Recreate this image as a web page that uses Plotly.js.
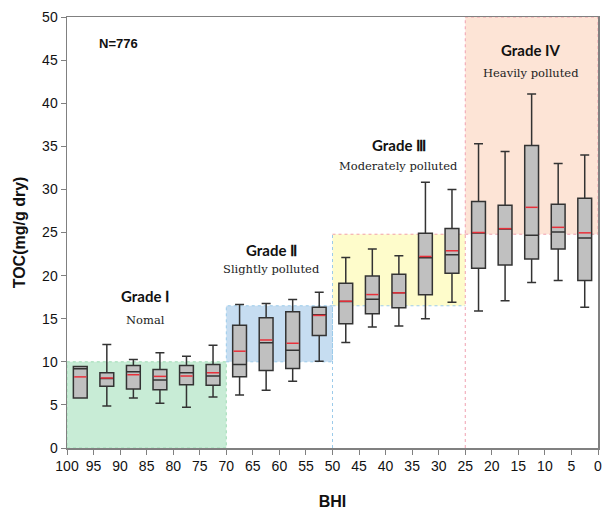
<!DOCTYPE html>
<html>
<head>
<meta charset="utf-8">
<script src="https://cdn.plot.ly/plotly-3.0.1.min.js"></script>
<style>html,body{margin:0;padding:0;background:#fff;}#chart{width:603px;height:511px;}</style>
</head>
<body>
<div id="chart"></div>
<script>
// BHI bin centres
var bhi = [97.5, 92.5, 87.5, 82.5, 77.5, 72.5, 67.5, 62.5, 57.5, 52.5, 47.5, 42.5, 37.5, 32.5, 27.5, 22.5, 17.5, 12.5, 7.5, 2.5];
// TOC box statistics (mg/g dry)
var lowerWhisker = [5.8, 4.88, 5.81, 5.19, 4.73, 5.92, 6.15, 6.69, 7.73, 10.07, 12.23, 14.03, 14.15, 15.0, 16.92, 15.88, 17.08, 19.19, 19.42, 16.34];
var q1Values     = [5.8, 7.15, 6.85, 6.77, 7.35, 7.27, 8.26, 9.0, 9.23, 13.04, 14.42, 15.57, 16.27, 17.77, 20.26, 20.84, 21.23, 21.92, 23.1, 19.42];
var medianValues = [9.2, 8.05, 8.85, 7.88, 8.73, 8.35, 9.69, 12.22, 11.34, 15.45, 17.0, 17.26, 18.0, 22.07, 22.42, 24.95, 25.4, 24.69, 25.07, 24.35];
var q3Values     = [9.45, 8.73, 9.58, 9.12, 9.58, 9.69, 14.23, 15.11, 15.81, 16.34, 19.1, 19.96, 20.15, 24.92, 25.45, 28.6, 28.16, 35.1, 28.27, 28.96];
var upperWhisker = [9.45, 12.0, 10.27, 11.04, 10.65, 11.92, 16.65, 16.77, 17.23, 18.07, 22.11, 23.08, 22.3, 30.84, 30.0, 35.3, 34.4, 41.08, 33.0, 34.0];
var meanValues   = [8.25, 8.12, 8.5, 8.31, 8.35, 8.73, 11.23, 12.53, 12.15, 15.38, 17.03, 17.8, 18.0, 22.22, 22.88, 25.0, 25.45, 27.92, 25.6, 24.96];

// grade zones
var zoneX0 = [100, 70, 50, 25];
var zoneX1 = [70, 50, 25, 0];
var zoneY0 = [0, 10, 16.5, 24.8];
var zoneY1 = [10, 16.5, 24.8, 50];
var gradeNames = ['Grade Ⅰ', 'Grade Ⅱ', 'Grade Ⅲ', 'Grade IV'];
var gradeDesc = ['Nomal', 'Slightly polluted', 'Moderately polluted', 'Heavily polluted'];
var gradeLabelX = [85.3, 61.5, 37.5, 12.6];
var gradeLabelY = [17.6, 23.0, 35.2, 46.2];
var descLabelY = [14.8, 20.8, 32.7, 43.5];

var boxW = 2.6;
var zoneFill = ['#c8ecd6', '#c6ddf1', '#fefccb', '#fde4d6'];
var zoneLine = ['#9fdcb4', '#9ccbea', null, '#f0a0b0'];

var boxTrace = {
  type: 'box',
  x: bhi,
  q1: q1Values,
  median: medianValues,
  q3: q3Values,
  lowerfence: lowerWhisker,
  upperfence: upperWhisker,
  width: boxW,
  whiskerwidth: 0.65,
  boxpoints: false,
  fillcolor: '#c0c0c0',
  line: {color: '#333333', width: 1.5},
  hoverinfo: 'skip',
  showlegend: false
};

var mx = [], my = [];
for (var i = 0; i < bhi.length; i++) {
  mx.push(bhi[i] - boxW / 2 + 0.15, bhi[i] + boxW / 2 - 0.15, null);
  my.push(meanValues[i], meanValues[i], null);
}
var meanTrace = {
  type: 'scatter', mode: 'lines', x: mx, y: my,
  line: {color: '#e8303a', width: 1.5},
  hoverinfo: 'skip', showlegend: false
};

var shapes = [];
for (var k = 0; k < 4; k++) {
  shapes.push({type: 'rect', xref: 'x', yref: 'y', layer: 'below',
    x0: zoneX0[k], x1: zoneX1[k], y0: zoneY0[k], y1: zoneY1[k],
    fillcolor: zoneFill[k],
    line: zoneLine[k] ? {color: zoneLine[k], width: 1, dash: 'dot'} : {width: 0}});
}
function dotLine(x0, x1, y0, y1, c) {
  shapes.push({type: 'line', xref: 'x', yref: 'y', layer: 'below', x0: x0, x1: x1, y0: y0, y1: y1,
    line: {color: c, width: 1, dash: 'dot'}});
}
// yellow zone borders and boundary lines down to the axis
dotLine(50, 50, 0, 24.8, '#9ccbea');
dotLine(50, 25, 24.8, 24.8, '#f2a0a8');
dotLine(50, 25, 16.5, 16.5, '#9ccbea');
dotLine(25, 25, 0, 24.8, '#f0a0b0');

var annotations = [];
for (var k = 0; k < 4; k++) {
  annotations.push({x: gradeLabelX[k], y: gradeLabelY[k], xref: 'x', yref: 'y', text: '<b>' + gradeNames[k] + '</b>',
    showarrow: false, font: {family: 'Lato, "Open Sans", sans-serif', size: 15, color: '#111'}});
  annotations.push({x: gradeLabelX[k], y: descLabelY[k], xref: 'x', yref: 'y', text: gradeDesc[k],
    showarrow: false, font: {family: '"DejaVu Serif", "Liberation Serif", serif', size: 11.5, color: '#222'}});
}
annotations.push({x: 94.3, y: 46.9, xref: 'x', yref: 'y', xanchor: 'left', text: '<b>N=776</b>',
  showarrow: false, font: {family: '"Liberation Sans", Arial, sans-serif', size: 13, color: '#111'}});

var layout = {
  width: 603, height: 511,
  margin: {l: 67, r: 5, t: 17, b: 63},
  paper_bgcolor: '#ffffff', plot_bgcolor: '#ffffff',
  font: {family: '"Liberation Sans", Arial, sans-serif', size: 14, color: '#111'},
  showlegend: false,
  xaxis: {
    range: [100, 0], tick0: 0, dtick: 5, ticks: 'outside', ticklen: 5, tickcolor: '#808080',
    showgrid: false, zeroline: false, showline: true, mirror: true, linecolor: '#808080', linewidth: 1.5,
    tickfont: {size: 14, color: '#111'},
    title: {text: '<b>BHI</b>', font: {size: 16, color: '#111'}, standoff: 22}
  },
  yaxis: {
    range: [0, 50], tick0: 0, dtick: 5, ticks: 'outside', ticklen: 5, tickcolor: '#808080',
    showgrid: false, zeroline: false, showline: true, mirror: true, linecolor: '#808080', linewidth: 1.5,
    tickfont: {size: 14, color: '#111'},
    title: {text: '<b>TOC(mg/g dry)</b>', font: {size: 16, color: '#111'}, standoff: 12}
  },
  shapes: shapes,
  annotations: annotations
};

Plotly.newPlot('chart', [boxTrace, meanTrace], layout, {displayModeBar: false, staticPlot: true});
</script>
</body>
</html>
